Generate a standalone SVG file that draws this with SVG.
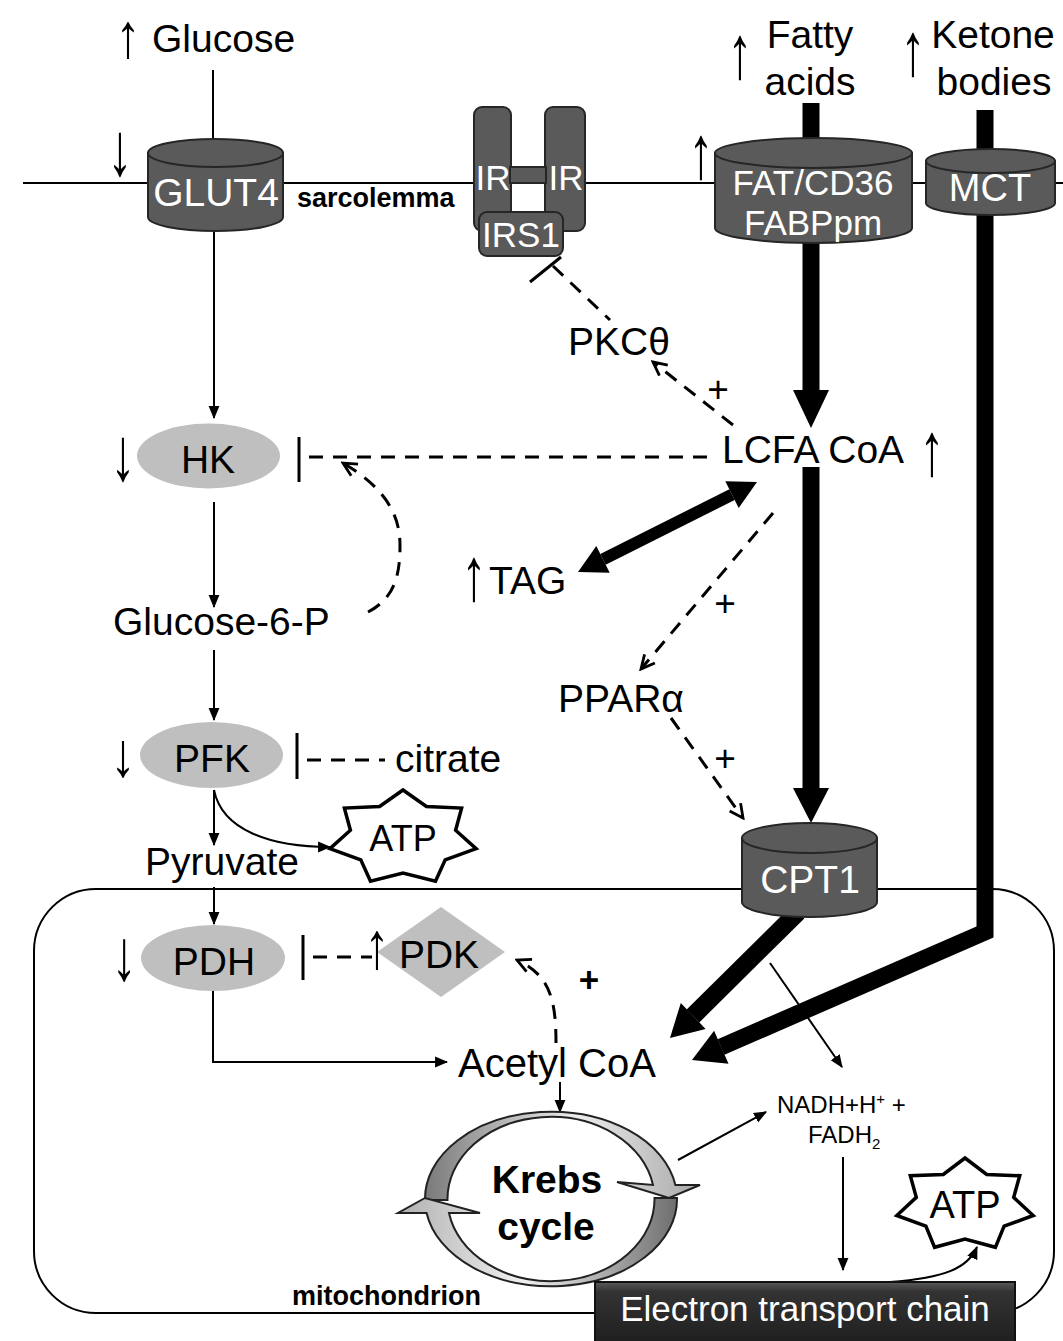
<svg xmlns="http://www.w3.org/2000/svg" width="1063" height="1341" viewBox="0 0 1063 1341">
<style>
text{font-family:"Liberation Sans",Arial,sans-serif;fill:#000}
.t{font-size:39px}
.w{fill:#fff}
.b{font-weight:bold}
.c{text-anchor:middle}
.ar{font-size:50px;text-anchor:middle}
.pl{font-size:37px;text-anchor:middle}
.cyl{fill:#5a5a5a;stroke:#262626;stroke-width:2}
.enz{fill:#bfbfbf;stroke:none}
.ln{fill:none;stroke:#000;stroke-width:2}
.dash{fill:none;stroke:#000;stroke-width:3;stroke-dasharray:14 10}
.bar{stroke:#000;stroke-width:3}
.thick{fill:none;stroke:#000;stroke-width:17;stroke-linejoin:miter}
.star{fill:#fff;stroke:#000;stroke-width:3.5;stroke-linejoin:miter}
</style>
<defs>
<marker id="tri" viewBox="0 0 12 12" refX="11" refY="6" markerWidth="13" markerHeight="13" markerUnits="userSpaceOnUse" orient="auto"><path d="M0,1 L12,6 L0,11 Z" fill="#000"/></marker>
<marker id="open" viewBox="0 0 16 16" refX="14" refY="8" markerWidth="18" markerHeight="18" markerUnits="userSpaceOnUse" orient="auto"><path d="M2,2 L14,8 L2,14" fill="none" stroke="#000" stroke-width="2.5" stroke-dasharray="none"/></marker>
<linearGradient id="g1" x1="425" y1="0" x2="700" y2="0" gradientUnits="userSpaceOnUse"><stop offset="0" stop-color="#7a7a7a"/><stop offset="0.55" stop-color="#ededed"/><stop offset="1" stop-color="#a8a8a8"/></linearGradient>
<linearGradient id="g2" x1="677" y1="0" x2="398" y2="0" gradientUnits="userSpaceOnUse"><stop offset="0" stop-color="#6e6e6e"/><stop offset="0.55" stop-color="#f0f0f0"/><stop offset="1" stop-color="#b0b0b0"/></linearGradient>
<linearGradient id="etc" x1="0" y1="0" x2="0" y2="1"><stop offset="0" stop-color="#5a5a5a"/><stop offset="0.15" stop-color="#333"/><stop offset="1" stop-color="#1e1e1e"/></linearGradient>
</defs>

<g id="membranes">
<line x1="23" y1="183" x2="1063" y2="183" class="ln"/>
<rect id="mitochondrion-outline" x="34" y="889" width="1020" height="424" rx="62" ry="62" class="ln"/>
</g>

<g id="connectors">
<line x1="213" y1="70" x2="213" y2="140" class="ln"/>
<line x1="214" y1="232" x2="214" y2="418" class="ln" marker-end="url(#tri)"/>
<line x1="214" y1="502" x2="214" y2="607" class="ln" marker-end="url(#tri)"/>
<line x1="214" y1="650" x2="214" y2="720" class="ln" marker-end="url(#tri)"/>
<line x1="214" y1="790" x2="214" y2="845" class="ln" marker-end="url(#tri)"/>
<path d="M214,790 C222,830 270,847 330,847" class="ln" marker-end="url(#tri)"/>
<line x1="214" y1="887" x2="214" y2="924" class="ln" marker-end="url(#tri)"/>
<path d="M213,990 V1062 H447" class="ln" marker-end="url(#tri)"/>
<line x1="560" y1="1082" x2="560" y2="1112" class="ln" marker-end="url(#tri)"/>
<line x1="678" y1="1160" x2="766" y2="1112" class="ln" marker-end="url(#tri)"/>
<line x1="843" y1="1157" x2="843" y2="1270" class="ln" marker-end="url(#tri)"/>
<path d="M890,1282 C945,1278 968,1268 977,1247" class="ln" marker-end="url(#tri)"/>
<line x1="770" y1="963" x2="842" y2="1067" class="ln" marker-end="url(#tri)"/>

<line x1="530" y1="282" x2="561" y2="257" class="bar"/>
<line x1="553" y1="266" x2="610" y2="320" class="dash"/>
<line x1="733" y1="425" x2="653" y2="362" class="dash" marker-end="url(#open)"/>
<line x1="299" y1="437" x2="299" y2="482" class="bar"/>
<line x1="309" y1="457" x2="710" y2="457" class="dash"/>
<path d="M368,612 C395,598 400,575 400,545 C400,510 380,485 343,463" class="dash" marker-end="url(#open)"/>
<line x1="297" y1="733" x2="297" y2="779" class="bar"/>
<line x1="307" y1="760" x2="385" y2="760" class="dash"/>
<line x1="303" y1="935" x2="303" y2="980" class="bar"/>
<line x1="313" y1="957" x2="372" y2="957" class="dash"/>
<path d="M556,1043 C556,1000 550,975 517,960" class="dash" marker-end="url(#open)"/>
<line x1="773" y1="513" x2="641" y2="669" class="dash" marker-end="url(#open)"/>
<line x1="671" y1="718" x2="743" y2="818" class="dash" marker-end="url(#open)"/>

<line x1="811" y1="103" x2="811" y2="392" class="thick"/>
<polygon points="793,390 829,390 811,428"/>
<line x1="811" y1="467" x2="811" y2="790" class="thick"/>
<polygon points="793,788 829,788 811,823"/>
<polyline points="985,110 985,932 721,1047" class="thick"/>
<polygon points="692,1060 728.5,1063.7 714.1,1030.7"/>
<line x1="798" y1="912" x2="693" y2="1016" class="thick" style="stroke-width:18"/>
<polygon points="670,1038 705.6,1028.9 680.8,1002.9"/>
<line x1="603" y1="559.4" x2="732" y2="494.6" style="stroke:#000;stroke-width:12"/>
<polygon points="578,572 609.7,572.8 596.3,546"/>
<polygon points="757,482 738.7,508 725.3,481.2"/>
</g>

<g id="labels">
<text class="ar" transform="translate(128,57) scale(1,1.25)">↑</text>
<text class="t" x="152" y="52">Glucose</text>
<text class="ar" transform="translate(740,78) scale(1,1.5)">↑</text>
<text class="t c" x="810" y="48">Fatty</text>
<text class="t c" x="810" y="95">acids</text>
<text class="ar" transform="translate(913,75) scale(1,1.5)">↑</text>
<text class="t c" x="993" y="48">Ketone</text>
<text class="t c" x="994" y="95">bodies</text>
<text class="ar" transform="translate(120,175) scale(1,1.5)">↓</text>
<text class="ar" transform="translate(701,178) scale(1,1.5)">↑</text>
<text class="b" x="297" y="207" font-size="27">sarcolemma</text>
</g>

<g id="GLUT4">
<path d="M148,153 V217 A67.5,14 0 0 0 283,217 V153 Z" class="cyl"/>
<ellipse cx="215.5" cy="153" rx="67.5" ry="14" class="cyl"/>
<text class="t w c" x="216" y="206">GLUT4</text>
</g>

<g id="IR">
<rect x="474" y="107" width="37" height="124" rx="8" class="cyl"/>
<rect x="545" y="107" width="40" height="124" rx="8" class="cyl"/>
<rect x="510" y="167" width="36" height="16" class="cyl"/>
<text class="w c" x="493" y="190" font-size="35">IR</text>
<text class="w c" x="566" y="190" font-size="35">IR</text>
</g>
<g id="IRS1">
<rect x="479" y="212" width="84" height="44" rx="8" class="cyl"/>
<text class="w c" x="521" y="247" font-size="35">IRS1</text>
</g>

<g id="FAT-CD36">
<path d="M715,153 V228 A98.5,15 0 0 0 912,228 V153 Z" class="cyl"/>
<ellipse cx="813.5" cy="153" rx="98.5" ry="15" class="cyl"/>
<text class="w c" x="813" y="195" font-size="35">FAT/CD36</text>
<text class="w c" x="813" y="235" font-size="35">FABPpm</text>
</g>

<g id="MCT">
<path d="M926,161 V203 A64.5,12 0 0 0 1055,203 V161 Z" class="cyl"/>
<ellipse cx="990.5" cy="161" rx="64.5" ry="12" class="cyl"/>
<text class="w c" x="990" y="201" font-size="38">MCT</text>
</g>

<g id="PKC">
<text class="t" x="568" y="355">PKCθ</text>
<text class="pl" x="718" y="402">+</text>
</g>

<g id="LCFA-CoA">
<text class="t" x="722" y="463">LCFA CoA</text>
<text class="ar" transform="translate(932,475) scale(1,1.5)">↑</text>
</g>

<g id="HK">
<ellipse cx="208.5" cy="456" rx="71.5" ry="32.5" class="enz"/>
<text class="t c" x="208" y="473">HK</text>
<text class="ar" transform="translate(123,480) scale(1,1.5)">↓</text>
</g>

<g id="Glucose-6-P">
<text class="t" x="113" y="635">Glucose-6-P</text>
</g>

<g id="TAG">
<text class="ar" transform="translate(474,600) scale(1,1.5)">↑</text>
<text class="t" x="489" y="594" font-size="37">TAG</text>
</g>

<g id="PPARa">
<text class="t" x="558" y="712">PPARα</text>
<text class="pl" x="725" y="616">+</text>
<text class="pl" x="725" y="771">+</text>
</g>

<g id="PFK">
<ellipse cx="211.5" cy="755" rx="71.5" ry="33" class="enz"/>
<text class="t c" x="212" y="772">PFK</text>
<text class="ar" transform="translate(123,776) scale(1,1.25)">↓</text>
</g>

<g id="citrate">
<text class="t" x="395" y="772">citrate</text>
</g>

<g id="ATP-glycolysis">
<polygon class="star" points="403,790 426.4,806.5 461.6,808.1 455.6,830.2 476.1,848.7 445.2,859.8 435.5,881.2 403,873 370.5,881.2 360.8,859.8 329.9,848.7 350.4,830.2 344.4,808.1 379.6,806.5"/>
<text class="c" x="403" y="851" font-size="36">ATP</text>
</g>

<g id="Pyruvate">
<text class="t" x="145" y="875">Pyruvate</text>
</g>

<g id="CPT1">
<path d="M742,838 V902 A67.5,15 0 0 0 877,902 V838 Z" class="cyl"/>
<ellipse cx="809.5" cy="838" rx="67.5" ry="15" class="cyl"/>
<text class="t w c" x="810" y="893">CPT1</text>
</g>

<g id="PDH">
<ellipse cx="213" cy="958" rx="72" ry="33" class="enz"/>
<text class="t c" x="214" y="975">PDH</text>
<text class="ar" transform="translate(124,980) scale(1,1.45)">↓</text>
</g>

<g id="PDK">
<polygon points="377,952 441,907 505,952 441,997" class="enz"/>
<text class="t c" x="439" y="968">PDK</text>
<text class="ar" transform="translate(377,968) scale(1,1.32)">↑</text>
<text class="b c" x="589" y="992" font-size="35">+</text>
</g>

<g id="Acetyl-CoA">
<text x="458" y="1077" font-size="40">Acetyl CoA</text>
</g>

<g id="Krebs-cycle">
<path d="M425,1200 A126,87 0 0 1 675.4,1185 L700,1185 L669,1198 L617,1182 L653,1185 A103.5,82 0 0 0 447.5,1200 Z" fill="url(#g1)" stroke="#222" stroke-width="2"/>
<path d="M677,1198 A126,87 0 0 1 426.6,1213 L398,1213 L425,1198 L480,1213 L449,1213 A103.5,82 0 0 0 654.5,1198 Z" fill="url(#g2)" stroke="#222" stroke-width="2"/>
<text class="t b c" x="547" y="1193">Krebs</text>
<text class="t b c" x="546" y="1240">cycle</text>
</g>

<g id="NADH-FADH2">
<text x="777" y="1113" font-size="24">NADH+H<tspan font-size="15" dy="-9">+</tspan><tspan dy="9"> +</tspan></text>
<text x="808" y="1143" font-size="24">FADH<tspan font-size="15" dy="6">2</tspan></text>
</g>

<g id="ATP-etc">
<polygon class="star" points="965,1158 986.7,1174.4 1019.7,1175.7 1013.7,1197.4 1033.2,1215.5 1004.1,1226.2 995.4,1247.3 965,1239 934.6,1247.3 925.9,1226.2 896.8,1215.5 916.3,1197.4 910.3,1175.7 943.3,1174.4"/>
<text class="c" x="965" y="1218" font-size="38">ATP</text>
</g>

<g id="Electron-transport-chain">
<rect x="595" y="1282" width="420" height="64" fill="url(#etc)" stroke="#111" stroke-width="2"/>
<text class="w c" x="805" y="1321" font-size="35">Electron transport chain</text>
</g>

<g id="mitochondrion-label">
<text class="b" x="292" y="1305" font-size="27">mitochondrion</text>
</g>
</svg>
